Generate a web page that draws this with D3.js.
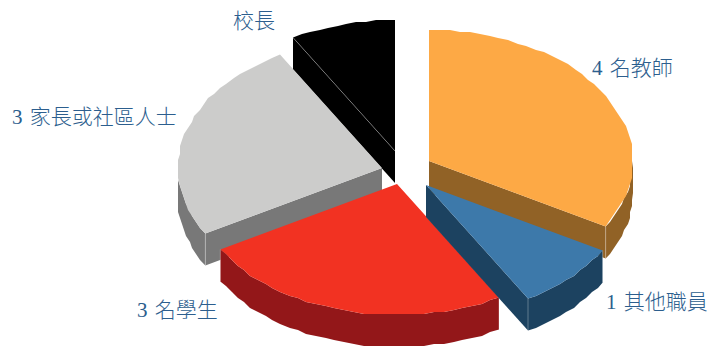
<!DOCTYPE html>
<html>
<head>
<meta charset="utf-8">
<script src="https://cdn.jsdelivr.net/npm/d3@7/dist/d3.min.js"></script>
<style>
  html, body { margin: 0; padding: 0; background: #fff; }
  svg { display: block; }
  .pie-label { font-family: "Liberation Serif", "Noto Sans CJK TC", serif; font-size: 21px; font-weight: 300; fill: #2c5e8e; word-spacing: 2px; }
</style>
</head>
<body>
<svg id="chart" width="707" height="347"></svg>
<script>
// Committee membership by role
const roles = ["名教師", "其他職員", "名學生", "家長或社區人士", "校長"];
const counts = [4, 1, 3, 3, 1];
const countShown = [true, true, true, true, false];
const topColors = ["#fda945", "#3d79aa", "#f23222", "#cccccb", "#000000"];
const sideColors = ["#916226", "#1c4260", "#931719", "#787878", "#000000"];
const sliceShift = [[23, -8], [20, 16], [-9, 15], [-24, -1], [-11, -18]];
const labelAnchors = [[592, 75], [606, 309], [137, 317], [12, 124], [233, 28]];

// Layout of the tilted, exploded pie
const centerX = 406, centerY = 169;
const radius = 204, tilt = 0.642, depth = 32;
const rimStep = 0.05, rimGrid = 2;

const svg = d3.select("#chart");
const slices = d3.pie().sort(null).value(d => d)(counts);

const sx = d3.scaleLinear().domain([-1, 1]).range([-radius, radius]);
const sy = d3.scaleLinear().domain([-1, 1]).range([-radius * tilt, radius * tilt]);
const polar = (angle, i, drop = 0) => [
  centerX + sliceShift[i][0] + sx(Math.sin(angle)),
  centerY + sliceShift[i][1] + sy(-Math.cos(angle)) + drop
];
const apex = (i, drop = 0) => [
  centerX + sliceShift[i][0],
  centerY + sliceShift[i][1] + drop
];
const line = d3.line();

// The rim is a coarse polygon snapped to a small grid, which gives it a slightly rough edge
const arcPoints = (a0, a1, i, drop) => {
  const n = Math.max(2, Math.ceil(Math.abs(a1 - a0) / rimStep));
  return d3.range(n + 1).map(k => {
    const p = polar(a0 + (a1 - a0) * k / n, i, drop);
    if (k === 0 || k === n) return p;
    return [Math.round(p[0] / rimGrid) * rimGrid, Math.round(p[1] / rimGrid) * rimGrid];
  });
};

const drawOrder = [4, 0, 3, 2, 1];
const rightSide = Math.PI / 2, leftSide = Math.PI * 1.5;

drawOrder.forEach(i => {
  const s = slices[i];
  const g = svg.append("g");

  // Cut faces that turn toward the viewer
  const cutFace = angle => g.append("path")
    .attr("d", line([apex(i), polar(angle, i), polar(angle, i, depth), apex(i, depth)]) + "Z")
    .attr("fill", sideColors[i]);
  if (Math.sin(s.startAngle) < -1e-6) cutFace(s.startAngle);
  if (Math.sin(s.endAngle) > 1e-6) cutFace(s.endAngle);

  // Curved rim on the near half of the pie
  const rimStart = Math.max(s.startAngle, rightSide);
  const rimEnd = Math.min(s.endAngle, leftSide);
  if (rimEnd > rimStart) {
    const top = arcPoints(rimStart, rimEnd, i, 0);
    const bottom = arcPoints(rimEnd, rimStart, i, depth);
    g.append("path").attr("d", line(top.concat(bottom)) + "Z").attr("fill", sideColors[i]);
  }

  // Upper face
  g.append("path")
    .attr("d", line([apex(i)].concat(arcPoints(s.startAngle, s.endAngle, i, 0))) + "Z")
    .attr("fill", topColors[i]);

  // Faint highlight where the faces meet
  const cornerAngles = [s.startAngle, s.endAngle].filter(a => Math.sin(a) !== 0 && a > rightSide && a < leftSide);
  cornerAngles.forEach(a => {
    g.append("path")
      .attr("d", line([polar(a, i), polar(a, i, depth)]))
      .attr("stroke", "#ffffff").attr("stroke-opacity", 0.3).attr("fill", "none");
  });
  if (i === 4) {
    g.append("path")
      .attr("d", line([polar(s.startAngle, i), apex(i)]))
      .attr("stroke", "#ffffff").attr("stroke-opacity", 0.3).attr("fill", "none");
  }
});

// Category labels
svg.selectAll("text.pie-label")
  .data(roles)
  .join("text")
  .attr("class", "pie-label")
  .attr("x", (d, i) => labelAnchors[i][0])
  .attr("y", (d, i) => labelAnchors[i][1])
  .text((d, i) => countShown[i] ? `${counts[i]} ${d}` : d);
</script>
</body>
</html>
